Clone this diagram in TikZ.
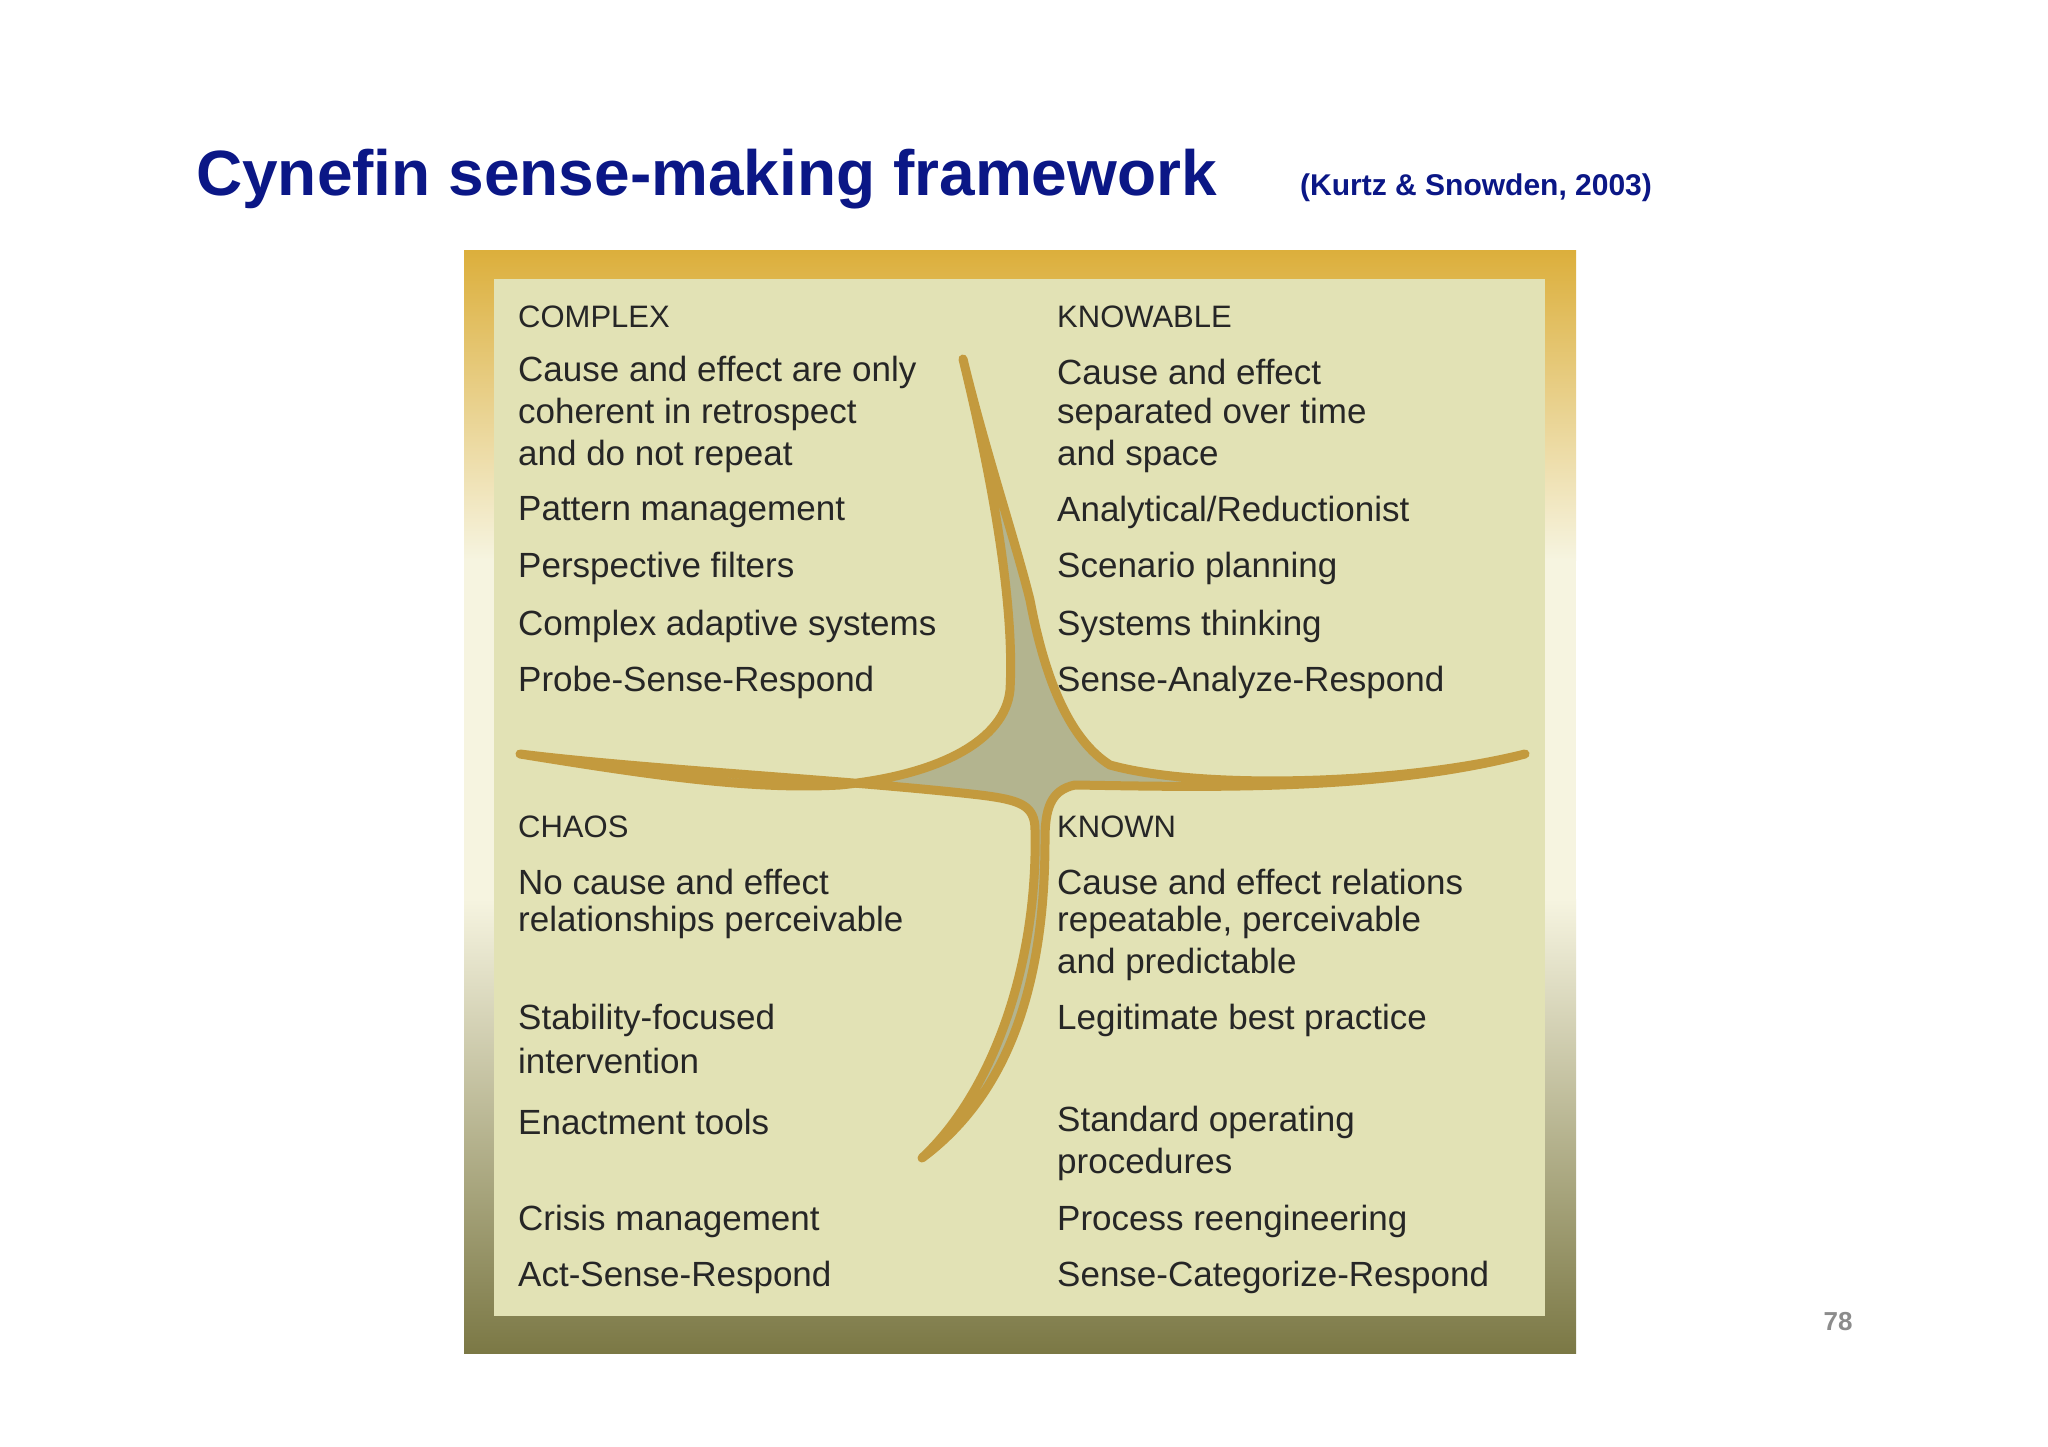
\documentclass[tikz,border=0pt]{standalone}
\usepackage{fontspec}
\setmainfont{Liberation Sans}
\definecolor{navy}{HTML}{0B1786}
\definecolor{panel}{HTML}{E2E2B5}
\definecolor{gold}{HTML}{C39A3E}
\definecolor{star}{HTML}{B3B48F}
\definecolor{ftop}{HTML}{DCAF3C}
\definecolor{fmid}{HTML}{F6F4E0}
\definecolor{fbot}{HTML}{7B7845}
\begin{document}
\begin{tikzpicture}[x=1pt,y=-1pt,
  txt/.style={anchor=west,font=\fontsize{35}{35}\selectfont,text=black!85,inner sep=0pt},
  head/.style={txt,font=\fontsize{31}{31}\selectfont}]
\useasboundingbox[fill=white] (0,0) rectangle (2048,1447);
% frame
\shade[top color=ftop,bottom color=fmid,shading angle=0] (464,251) rectangle (1576,560);
\fill[fmid] (464,559) rectangle (1576,900);
\shade[top color=fmid,bottom color=fbot] (464,899) rectangle (1576,1353);
\fill[panel] (494,279) rectangle (1545,1316);
% title
\node[anchor=base west,inner sep=0pt,text=navy,font=\fontsize{64}{64}\selectfont\bfseries] (title) at (196,196) {Cynefin sense-making framework};
\node[anchor=base west,inner sep=0pt,text=navy,font=\fontsize{30}{30}\selectfont\bfseries] (cite) at (1300,196) {(Kurtz \& Snowden, 2003)};
\node[anchor=center,text=black!45,font=\fontsize{26}{26}\selectfont\bfseries] (pg) at (1838,1322) {78};
% star
\coordinate (T) at (963,359); \coordinate (L) at (520,754);
\coordinate (R) at (1525,754); \coordinate (B) at (922,1158);
\draw[gold,line width=9pt,line join=round,fill=star]
 (L) .. controls (650,775) and (750,790) .. (840,785)
 .. controls (940,775) and (1005,740) .. (1010,690)
 .. controls (1015,600) and (990,470) .. (T)
 .. controls (985,450) and (1015,540) .. (1030,600)
 .. controls (1045,680) and (1070,740) .. (1110,765)
 .. controls (1200,790) and (1400,785) .. (R)
 .. controls (1380,792) and (1200,787) .. (1075,785)
 .. controls (1050,790) and (1045,810) .. (1045,840)
 .. controls (1045,1000) and (1000,1100) .. (B)
 .. controls (995,1090) and (1038,960) .. (1035,830)
 .. controls (1035,805) and (1020,800) .. (980,795)
 .. controls (850,780) and (650,770) .. cycle;
% left texts
\node[head] (c0) at (518,317) {COMPLEX};
\node[txt] (c1) at (518,372) {Cause and effect are only};
\node[txt] (c2) at (518,414) {coherent in retrospect};
\node[txt] (c3) at (518,456) {and do not repeat};
\node[txt] (c4) at (518,512) {Pattern management};
\node[txt] (c5) at (518,568) {Perspective filters};
\node[txt] (c6) at (518,626) {Complex adaptive systems};
\node[txt] (c7) at (518,682) {Probe-Sense-Respond};
\node[head] (h0) at (518,827) {CHAOS};
\node[txt] (h1) at (518,882) {No cause and effect};
\node[txt] (h2) at (518,922) {relationships perceivable};
\node[txt] (h3) at (518,1020) {Stability-focused};
\node[txt] (h4) at (518,1061) {intervention};
\node[txt] (h5) at (518,1122) {Enactment tools};
\node[txt] (h6) at (518,1221) {Crisis management};
\node[txt] (h7) at (518,1277) {Act-Sense-Respond};
% right texts
\node[head] (k0) at (1057,317) {KNOWABLE};
\node[txt] (k1) at (1057,372) {Cause and effect};
\node[txt] (k2) at (1057,414) {separated over time};
\node[txt] (k3) at (1057,456) {and space};
\node[txt] (k4) at (1057,512) {Analytical/Reductionist};
\node[txt] (k5) at (1057,568) {Scenario planning};
\node[txt] (k6) at (1057,626) {Systems thinking};
\node[txt] (k7) at (1057,682) {Sense-Analyze-Respond};
\node[head] (n0) at (1057,827) {KNOWN};
\node[txt] (n1) at (1057,882) {Cause and effect relations};
\node[txt] (n2) at (1057,922) {repeatable, perceivable};
\node[txt] (n3) at (1057,964) {and predictable};
\node[txt] (n4) at (1057,1020) {Legitimate best practice};
\node[txt] (n5) at (1057,1122) {Standard operating};
\node[txt] (n6) at (1057,1164) {procedures};
\node[txt] (n7) at (1057,1221) {Process reengineering};
\node[txt] (n8) at (1057,1277) {Sense-Categorize-Respond};
\end{tikzpicture}
\end{document}
